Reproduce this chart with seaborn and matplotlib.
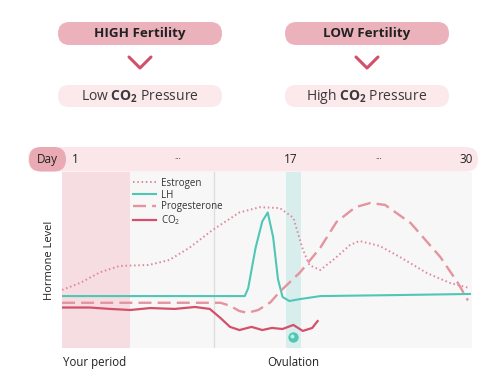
import matplotlib
matplotlib.use("Agg")
import matplotlib.pyplot as plt
from matplotlib.patches import FancyBboxPatch
import seaborn as sns

# Hormone curves (x = cycle day, y = relative level 0-100)
estrogen_day = [0.04, 1.4, 2.85, 4.3, 6.5, 8.0, 9.5, 11.2, 13.2, 14.7, 16.2, 17.2, 17.9, 18.4, 19.2, 20.3, 21.4, 22.1, 23.6, 25.1, 27.1, 28.8, 30.3]
estrogen_level = [33, 37, 43, 46.6, 47.2, 50, 57, 67, 77, 80, 79.5, 74, 56, 47, 44.3, 51, 58.5, 60.8, 58, 51.7, 42.6, 37, 34]

lh_day = [0.04, 13.6, 13.85, 14.4, 14.9, 15.3, 15.7, 16.06, 16.4, 16.9, 17.7, 19.2, 25.1, 30.3]
lh_level = [29.5, 29.5, 34, 57, 72, 77, 63, 39, 29, 26.7, 27.8, 29.5, 30.1, 30.7]

prog_day = [0.04, 11.8, 12.5, 13.2, 13.8, 14.6, 15.5, 16.2, 17.7, 19.2, 20.4, 21.8, 22.9, 24.0, 25.9, 28.1, 29.4, 30.15]
prog_level = [25.7, 25.7, 24, 21, 20, 21.6, 26, 32, 43, 57, 71.6, 80, 82.4, 81.3, 71, 51.7, 37, 27]

co2_day = [0.04, 2.1, 3.6, 5.1, 6.6, 8.4, 9.9, 11.0, 11.8, 12.5, 13.2, 14.1, 14.9, 15.6, 16.4, 17.2, 17.9, 18.6, 19.0]
co2_level = [23, 23, 22.2, 21.6, 22.7, 22.2, 23.3, 22.2, 17, 12, 10.2, 12, 10.2, 11.4, 10.8, 13.1, 9.7, 11.4, 15.3]

day_ticks = [1, 8.6, 17, 23.5, 30]
day_labels = ["1", "···", "17", "···", "30"]
period_days = (0.04, 5.1)
ovulation_days = (16.65, 17.75)
ovulation_dot = (17.2, 6)
divider_day = 11.3

plt.rcParams["font.family"] = ["Open Sans", "DejaVu Sans"]
plt.rcParams["mathtext.fontset"] = "custom"
plt.rcParams["mathtext.rm"] = "Open Sans"
plt.rcParams["mathtext.bf"] = "Open Sans:bold"

PILL = "#ebb2bc"
PILL_LIGHT = "#fbe9ec"
CRIMSON = "#d4506a"
TEAL = "#4fc7b4"
TXT = "#222222"

fig = plt.figure(figsize=(5, 3.81), dpi=100)

# pixel-space overlay for the pills / day bar
bg = fig.add_axes([0, 0, 1, 1], zorder=0)
bg.set_xlim(0, 500)
bg.set_ylim(381, 0)
bg.axis("off")


def pill(x, y, w, h, color):
    bg.add_patch(FancyBboxPatch((x, y), w, h, boxstyle=f"round,pad=0,rounding_size={h / 2}",
                                fc=color, ec="none"))


for cx, top, bottom in [(140, "HIGH Fertility", r"Low $\mathbf{CO_2}$ Pressure"),
                        (367, "LOW Fertility", r"High $\mathbf{CO_2}$ Pressure")]:
    pill(cx - 82, 22, 164, 23, PILL)
    bg.text(cx, 34, top, ha="center", va="center", fontsize=9.6, fontweight="bold", color=TXT)
    bg.plot([cx - 11, cx, cx + 11], [57, 68, 57], color=CRIMSON, lw=2.2, solid_capstyle="round")
    pill(cx - 82, 85, 164, 22, PILL_LIGHT)
    bg.text(cx, 96.5, bottom, ha="center", va="center", fontsize=10, color="#3a3a3a")

# day bar
pill(28, 147, 450, 24.5, "#fbe6ea")
pill(29, 147, 37, 24.5, "#e9aab4")
bg.text(47.5, 159.5, "Day", ha="center", va="center", fontsize=8.5, color=TXT)

# main chart
ax = fig.add_axes([62 / 500, 33 / 381, 410 / 500, 176 / 381], zorder=1)
ax.set_facecolor("#f7f7f7")
ax.axvspan(*period_days, color="#f6dde1", lw=0, zorder=0)
ax.axvspan(*ovulation_days, color="#d7eeed", lw=0, zorder=0)
ax.axvline(divider_day, color="#dedede", lw=1, zorder=0)

sns.lineplot(x=estrogen_day, y=estrogen_level, ax=ax, color="#e0899a", lw=1.4,
             linestyle=(0, (0.8, 1.4)), label="Estrogen", sort=False)
sns.lineplot(x=lh_day, y=lh_level, ax=ax, color=TEAL, lw=1.5, label="LH", sort=False)
sns.lineplot(x=prog_day, y=prog_level, ax=ax, color="#e4939f", lw=1.7,
             linestyle=(0, (5.5, 2.6)), label="Progesterone", sort=False)
sns.lineplot(x=co2_day, y=co2_level, ax=ax, color=CRIMSON, lw=1.6, label="CO$_2$", sort=False)

ax.scatter([ovulation_dot[0]], [ovulation_dot[1]], s=55, color=TEAL, zorder=5, lw=0)
ax.scatter([ovulation_dot[0] - 0.12], [ovulation_dot[1] + 0.8], s=8, color="#bff0e8", zorder=6, lw=0)

ax.set_xlim(0.04, 30.45)
ax.set_ylim(0, 100)
ax.set_xticks([])
ax.set_yticks([])
for s in ax.spines.values():
    s.set_visible(False)
ax.set_ylabel("Hormone Level", fontsize=8, color=TXT, labelpad=5)

for d, lab in zip(day_ticks, day_labels):
    ax.text(d, 1.071, lab, transform=ax.get_xaxis_transform(), ha="center", va="center",
            fontsize=8.5 if lab != "···" else 6, color=TXT, clip_on=False)

ax.text(0.1, -0.08, "Your period", transform=ax.get_xaxis_transform(), ha="left", va="center",
        fontsize=8.3, color=TXT, clip_on=False)
ax.text(ovulation_dot[0], -0.08, "Ovulation", transform=ax.get_xaxis_transform(), ha="center",
        va="center", fontsize=8.3, color=TXT, clip_on=False)

leg = ax.legend(loc="upper left", bbox_to_anchor=(0.16, 1.0), frameon=False, fontsize=7,
                handlelength=2.3, handletextpad=0.5, labelspacing=0.08, borderaxespad=0.2)
for t in leg.get_texts():
    t.set_color("#333333")

fig.savefig("out.png", dpi=100)
